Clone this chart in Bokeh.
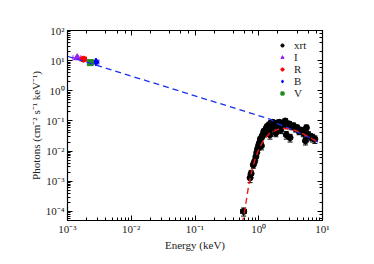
from bokeh.plotting import figure
from bokeh.models import (LogAxis, Whisker, ColumnDataSource, Legend, LegendItem,
                          CustomJSTickFormatter, TeeHead)
from bokeh.embed import file_html
from bokeh.resources import INLINE

# ---- data ----
xrt_e = [0.58, 0.73, 0.76, 0.82, 0.86, 0.90, 0.93, 0.96, 1.00, 1.03, 1.06, 1.10, 1.12, 1.16,
         1.20, 1.25, 1.30, 1.35, 1.40, 1.45, 1.50, 1.55, 1.60, 1.65, 1.75, 1.85, 1.90, 2.0,
         2.1, 2.2, 2.3, 2.45, 2.6, 2.7, 2.8, 3.0, 3.1, 3.3, 3.5, 3.8, 4.0, 4.3, 4.6, 5.0,
         5.4, 5.6, 6.0, 6.5, 7.0, 7.6]
xrt_f = [1.0e-4, 1.3e-3, 1.8e-3, 3.5e-3, 4.5e-3, 6.5e-3, 9e-3, 1.2e-2, 1.6e-2, 1.9e-2,
         2.5e-2, 1.5e-2, 3.0e-2, 3.5e-2, 4.5e-2, 3.8e-2, 5.5e-2, 6.5e-2, 4.5e-2, 7.5e-2,
         3.5e-2, 8.5e-2, 6.0e-2, 9.0e-2, 7.5e-2, 4.0e-2, 8.5e-2, 6.5e-2, 9.0e-2, 5.0e-2,
         7.5e-2, 8.5e-2, 1.0e-1, 3.5e-2, 7.0e-2, 8.0e-2, 2.8e-2, 6.5e-2, 7.0e-2, 5.5e-2,
         6.0e-2, 4.5e-2, 5.0e-2, 4.0e-2, 2.2e-2, 6.0e-2, 3.5e-2, 3.0e-2, 2.8e-2, 2.5e-2]
xrt_xerr = [0.06, 0.02, 0.02, 0.02, 0.02, 0.02, 0.02, 0.02, 0.02, 0.02, 0.02, 0.02, 0.02, 0.02,
            0.02, 0.02, 0.02, 0.02, 0.02, 0.02, 0.03, 0.03, 0.03, 0.03, 0.04, 0.04, 0.04, 0.05,
            0.05, 0.05, 0.05, 0.07, 0.07, 0.07, 0.07, 0.08, 0.08, 0.08, 0.1, 0.1, 0.1, 0.12,
            0.12, 0.15, 0.15, 0.15, 0.2, 0.2, 0.25, 0.3]
xrt_yerr = [0.3e-4, 0.4e-3, 0.5e-3, 0.8e-3, 1.0e-3, 1.5e-3, 2e-3, 3e-3, 4e-3, 4e-3,
            5e-3, 4e-3, 6e-3, 7e-3, 9e-3, 8e-3, 1.1e-2, 1.3e-2, 1.0e-2, 1.5e-2,
            1.0e-2, 1.7e-2, 1.3e-2, 1.8e-2, 1.5e-2, 1.0e-2, 1.7e-2, 1.4e-2, 1.8e-2, 1.2e-2,
            1.5e-2, 1.7e-2, 2.0e-2, 1.0e-2, 1.5e-2, 1.6e-2, 0.8e-2, 1.4e-2, 1.5e-2, 1.2e-2,
            1.3e-2, 1.0e-2, 1.1e-2, 1.0e-2, 0.6e-2, 1.3e-2, 0.9e-2, 0.8e-2, 0.8e-2, 0.7e-2]

opt_names = ["I", "R", "B", "V"]
opt_e = [1.42e-3, 1.78e-3, 2.8e-3, 2.28e-3]
opt_f = [12.5, 11.2, 9.0, 8.6]
opt_xerr = [0.2e-3, 0.2e-3, 0.3e-3, 0.1e-3]
opt_yerr = [1.5, 1.2, 1.0, 0.8]
opt_colors = ["#9a1ff0", "#ff0000", "#0000ff", "#1f8a1f"]
opt_markers = ["triangle", "circle", "diamond", "square"]
opt_sizes = [7, 6, 8, 6]

blue_e = [1e-3, 1.5, 2.0, 3.0, 4.0, 5.0, 6.0, 8.5]
blue_f = [14.0, 0.115, 0.08, 0.057, 0.043, 0.035, 0.029, 0.02]
red_e = [0.55, 0.6, 0.7, 0.8, 0.9, 1.0, 1.2, 1.5, 2.0, 2.5, 3.0, 4.0, 5.0, 6.0, 7.0, 8.5]
red_f = [4e-5, 1e-4, 8e-4, 2.8e-3, 6.5e-3, 1.15e-2, 2.4e-2, 4e-2, 5.3e-2, 5.7e-2, 5.5e-2,
         4.6e-2, 3.7e-2, 3.0e-2, 2.5e-2, 2.0e-2]

FONT = "Liberation Serif"

p = figure(x_axis_type="log", y_axis_type="log", x_range=(1e-3, 10), y_range=(5e-5, 100),
           frame_width=255, frame_height=190, min_border_left=67, min_border_top=30,
           min_border_right=30, min_border_bottom=30,
           output_backend="svg", toolbar_location=None)
p.grid.visible = False
p.outline_line_color = "black"
p.outline_line_width = 1.2

sup_code = """
const e = Math.round(Math.log10(tick));
const sup = {'-':'\u207b','0':'\u2070','1':'\u00b9','2':'\u00b2','3':'\u00b3','4':'\u2074','5':'\u2075','6':'\u2076','7':'\u2077','8':'\u2078','9':'\u2079'};
return '10' + String(e).split('').map(c => sup[c]).join('');
"""

def style(ax, labels=True):
    ax.major_tick_in = 5
    ax.major_tick_out = 0
    ax.minor_tick_in = 3
    ax.minor_tick_out = 0
    ax.axis_line_color = "black"
    ax.major_tick_line_color = "black"
    ax.minor_tick_line_color = "black"
    if labels:
        ax.formatter = CustomJSTickFormatter(code=sup_code)
        ax.major_label_text_font = FONT
        ax.major_label_text_font_size = "11px"
        ax.major_label_text_color = "#222222"
        ax.axis_label_text_font = FONT
        ax.axis_label_text_font_size = "11px"
        ax.axis_label_text_font_style = "normal"
        ax.axis_label_text_color = "#222222"
    else:
        ax.major_label_text_font_size = "1px"
        ax.major_label_text_alpha = 0
        ax.major_label_standoff = 0

style(p.xaxis[0])
style(p.yaxis[0])
p.xaxis[0].axis_label = "Energy (keV)"
p.yaxis[0].axis_label = "Photons (cm\u207b\u00b2 s\u207b\u00b9 keV\u207b\u00b9)"
p.xaxis[0].major_label_standoff = 2
p.yaxis[0].major_label_standoff = 3
p.xaxis[0].axis_label_standoff = 1
p.yaxis[0].axis_label_standoff = 1

top = LogAxis()
right = LogAxis()
style(top, labels=False)
style(right, labels=False)
p.add_layout(top, "above")
p.add_layout(right, "right")

# xrt
xs = ColumnDataSource(dict(x=xrt_e, y=xrt_f,
                           xl=[a - b for a, b in zip(xrt_e, xrt_xerr)],
                           xu=[a + b for a, b in zip(xrt_e, xrt_xerr)],
                           yl=[a - b for a, b in zip(xrt_f, xrt_yerr)],
                           yu=[a + b for a, b in zip(xrt_f, xrt_yerr)]))
p.add_layout(Whisker(source=xs, base="x", lower="yl", upper="yu", dimension="height",
                     line_color="black", line_width=1,
                     upper_head=TeeHead(size=5, line_color="black"),
                     lower_head=TeeHead(size=5, line_color="black")))
p.add_layout(Whisker(source=xs, base="y", lower="xl", upper="xu", dimension="width",
                     line_color="black", line_width=1,
                     upper_head=TeeHead(size=5, line_color="black"),
                     lower_head=TeeHead(size=5, line_color="black")))
r_xrt = p.scatter("x", "y", source=xs, marker="circle", size=6, color="black")

items = [LegendItem(label="xrt", renderers=[r_xrt])]
opt_rends = {}
for name, e, f, xe, ye, c, m, sz in zip(opt_names, opt_e, opt_f, opt_xerr, opt_yerr,
                                        opt_colors, opt_markers, opt_sizes):
    s = ColumnDataSource(dict(x=[e], y=[f], xl=[e - xe], xu=[e + xe], yl=[f - ye], yu=[f + ye]))
    p.add_layout(Whisker(source=s, base="y", lower="xl", upper="xu", dimension="width",
                         line_color=c, line_width=1,
                         upper_head=TeeHead(size=5, line_color=c),
                         lower_head=TeeHead(size=5, line_color=c)))
    p.add_layout(Whisker(source=s, base="x", lower="yl", upper="yu", dimension="height",
                         line_color=c, line_width=1,
                         upper_head=TeeHead(size=4, line_color=c),
                         lower_head=TeeHead(size=4, line_color=c)))
    opt_rends[name] = p.scatter("x", "y", source=s, marker=m, size=sz, color=c)

for name in ["I", "R", "B", "V"]:
    items.append(LegendItem(label=name, renderers=[opt_rends[name]]))

# model lines (on top of data)
p.line(blue_e, blue_f, line_color="#1a2ef0", line_dash="6 4", line_width=1.3)
p.line(red_e, red_f, line_color="#f01818", line_dash="6 4", line_width=1.4)

legend = Legend(items=items, location=(211, 121), border_line_color=None,
                background_fill_alpha=0, label_text_font=FONT, label_text_font_size="11px",
                label_text_color="#222222",
                glyph_height=8, glyph_width=8, label_height=12, spacing=0, padding=2,
                margin=0, label_standoff=8)
p.add_layout(legend)

with open("out.html", "w", encoding="utf-8") as fh:
    fh.write(file_html(p, INLINE))
